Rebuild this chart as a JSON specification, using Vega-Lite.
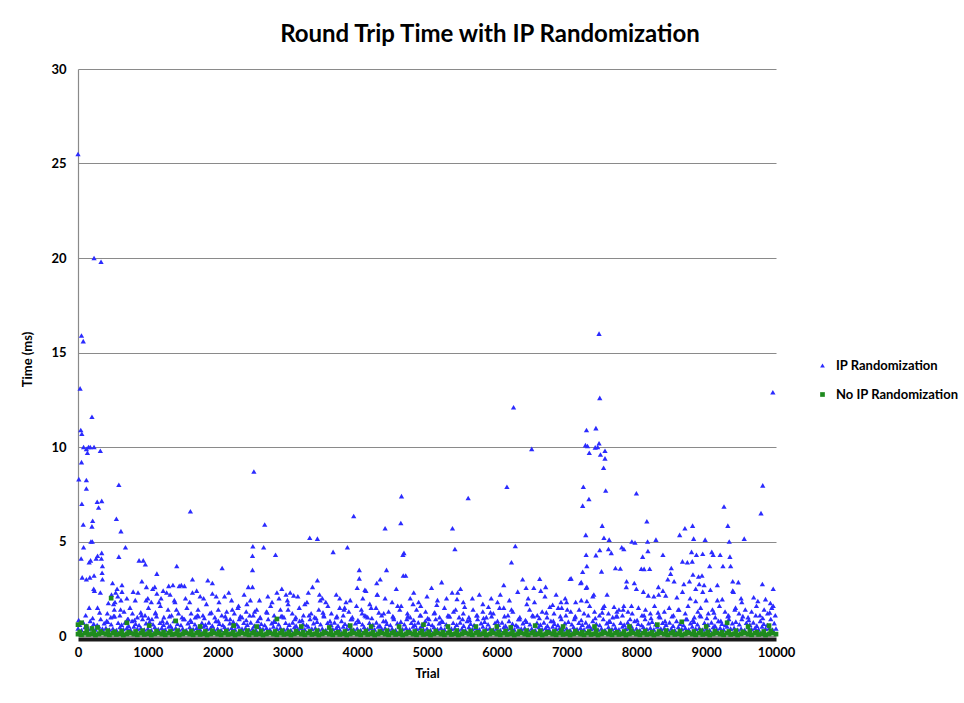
{
"$schema":"https://vega.github.io/schema/vega-lite/v6.json",
"width":698,"height":567,
"autosize":{"type":"none"},
"padding":{"left":78,"top":69,"right":188,"bottom":67},
"background":"white",
"config":{"view":{"stroke":null},"font":"Lato"},
"title":{"text":"Round Trip Time with IP Randomization","font":"Lato","fontSize":24,"fontWeight":"bold","color":"#000000","anchor":"middle","frame":"group","dx":63,"offset":16},
"datasets":{
"ip":[
{"t":0,"v":0.4},{"t":50,"v":0.32},{"t":100,"v":0.48},{"t":150,"v":0.37},{"t":200,"v":0.44},{"t":250,"v":0.35},{"t":300,"v":0.5},{"t":350,"v":0.39},{"t":400,"v":0.43},{"t":450,"v":0.34},
{"t":500,"v":0.4},{"t":550,"v":0.32},{"t":600,"v":0.48},{"t":650,"v":0.37},{"t":700,"v":0.44},{"t":750,"v":0.35},{"t":800,"v":0.5},{"t":850,"v":0.39},{"t":900,"v":0.43},{"t":950,"v":0.34},
{"t":1000,"v":0.4},{"t":1050,"v":0.32},{"t":1100,"v":0.48},{"t":1150,"v":0.37},{"t":1200,"v":0.44},{"t":1250,"v":0.35},{"t":1300,"v":0.5},{"t":1350,"v":0.39},{"t":1400,"v":0.43},{"t":1450,"v":0.34},
{"t":1500,"v":0.4},{"t":1550,"v":0.32},{"t":1600,"v":0.48},{"t":1650,"v":0.37},{"t":1700,"v":0.44},{"t":1750,"v":0.35},{"t":1800,"v":0.5},{"t":1850,"v":0.39},{"t":1900,"v":0.43},{"t":1950,"v":0.34},
{"t":2000,"v":0.4},{"t":2050,"v":0.32},{"t":2100,"v":0.48},{"t":2150,"v":0.37},{"t":2200,"v":0.44},{"t":2250,"v":0.35},{"t":2300,"v":0.5},{"t":2350,"v":0.39},{"t":2400,"v":0.43},{"t":2450,"v":0.34},
{"t":2500,"v":0.4},{"t":2550,"v":0.32},{"t":2600,"v":0.48},{"t":2650,"v":0.37},{"t":2700,"v":0.44},{"t":2750,"v":0.35},{"t":2800,"v":0.5},{"t":2850,"v":0.39},{"t":2900,"v":0.43},{"t":2950,"v":0.34},
{"t":3000,"v":0.4},{"t":3050,"v":0.32},{"t":3100,"v":0.48},{"t":3150,"v":0.37},{"t":3200,"v":0.44},{"t":3250,"v":0.35},{"t":3300,"v":0.5},{"t":3350,"v":0.39},{"t":3400,"v":0.43},{"t":3450,"v":0.34},
{"t":3500,"v":0.4},{"t":3550,"v":0.32},{"t":3600,"v":0.48},{"t":3650,"v":0.37},{"t":3700,"v":0.44},{"t":3750,"v":0.35},{"t":3800,"v":0.5},{"t":3850,"v":0.39},{"t":3900,"v":0.43},{"t":3950,"v":0.34},
{"t":4000,"v":0.4},{"t":4050,"v":0.32},{"t":4100,"v":0.48},{"t":4150,"v":0.37},{"t":4200,"v":0.44},{"t":4250,"v":0.35},{"t":4300,"v":0.5},{"t":4350,"v":0.39},{"t":4400,"v":0.43},{"t":4450,"v":0.34},
{"t":4500,"v":0.4},{"t":4550,"v":0.32},{"t":4600,"v":0.48},{"t":4650,"v":0.37},{"t":4700,"v":0.44},{"t":4750,"v":0.35},{"t":4800,"v":0.5},{"t":4850,"v":0.39},{"t":4900,"v":0.43},{"t":4950,"v":0.34},
{"t":5000,"v":0.4},{"t":5050,"v":0.32},{"t":5100,"v":0.48},{"t":5150,"v":0.37},{"t":5200,"v":0.44},{"t":5250,"v":0.35},{"t":5300,"v":0.5},{"t":5350,"v":0.39},{"t":5400,"v":0.43},{"t":5450,"v":0.34},
{"t":5500,"v":0.4},{"t":5550,"v":0.32},{"t":5600,"v":0.48},{"t":5650,"v":0.37},{"t":5700,"v":0.44},{"t":5750,"v":0.35},{"t":5800,"v":0.5},{"t":5850,"v":0.39},{"t":5900,"v":0.43},{"t":5950,"v":0.34},
{"t":6000,"v":0.4},{"t":6050,"v":0.32},{"t":6100,"v":0.48},{"t":6150,"v":0.37},{"t":6200,"v":0.44},{"t":6250,"v":0.35},{"t":6300,"v":0.5},{"t":6350,"v":0.39},{"t":6400,"v":0.43},{"t":6450,"v":0.34},
{"t":6500,"v":0.4},{"t":6550,"v":0.32},{"t":6600,"v":0.48},{"t":6650,"v":0.37},{"t":6700,"v":0.44},{"t":6750,"v":0.35},{"t":6800,"v":0.5},{"t":6850,"v":0.39},{"t":6900,"v":0.43},{"t":6950,"v":0.34},
{"t":7000,"v":0.4},{"t":7050,"v":0.32},{"t":7100,"v":0.48},{"t":7150,"v":0.37},{"t":7200,"v":0.44},{"t":7250,"v":0.35},{"t":7300,"v":0.5},{"t":7350,"v":0.39},{"t":7400,"v":0.43},{"t":7450,"v":0.34},
{"t":7500,"v":0.4},{"t":7550,"v":0.32},{"t":7600,"v":0.48},{"t":7650,"v":0.37},{"t":7700,"v":0.44},{"t":7750,"v":0.35},{"t":7800,"v":0.5},{"t":7850,"v":0.39},{"t":7900,"v":0.43},{"t":7950,"v":0.34},
{"t":8000,"v":0.4},{"t":8050,"v":0.32},{"t":8100,"v":0.48},{"t":8150,"v":0.37},{"t":8200,"v":0.44},{"t":8250,"v":0.35},{"t":8300,"v":0.5},{"t":8350,"v":0.39},{"t":8400,"v":0.43},{"t":8450,"v":0.34},
{"t":8500,"v":0.4},{"t":8550,"v":0.32},{"t":8600,"v":0.48},{"t":8650,"v":0.37},{"t":8700,"v":0.44},{"t":8750,"v":0.35},{"t":8800,"v":0.5},{"t":8850,"v":0.39},{"t":8900,"v":0.43},{"t":8950,"v":0.34},
{"t":9000,"v":0.4},{"t":9050,"v":0.32},{"t":9100,"v":0.48},{"t":9150,"v":0.37},{"t":9200,"v":0.44},{"t":9250,"v":0.35},{"t":9300,"v":0.5},{"t":9350,"v":0.39},{"t":9400,"v":0.43},{"t":9450,"v":0.34},
{"t":9500,"v":0.4},{"t":9550,"v":0.32},{"t":9600,"v":0.48},{"t":9650,"v":0.37},{"t":9700,"v":0.44},{"t":9750,"v":0.35},{"t":9800,"v":0.5},{"t":9850,"v":0.39},{"t":9900,"v":0.43},{"t":9950,"v":0.34},{"t":10000,"v":0.4},
{"t":25,"v":0.6},{"t":75,"v":0.72},{"t":125,"v":0.55},{"t":175,"v":0.8},{"t":225,"v":0.65},{"t":275,"v":0.58},{"t":325,"v":0.9},{"t":375,"v":0.68},{"t":425,"v":0.76},{"t":475,"v":0.62},{"t":525,"v":1.05},{"t":575,"v":0.7},
{"t":625,"v":0.6},{"t":675,"v":0.72},{"t":725,"v":0.55},{"t":775,"v":0.8},{"t":825,"v":0.65},{"t":875,"v":0.58},{"t":925,"v":0.9},{"t":975,"v":0.68},{"t":1025,"v":0.76},{"t":1075,"v":0.62},{"t":1125,"v":1.05},{"t":1175,"v":0.7},
{"t":1225,"v":0.6},{"t":1275,"v":0.72},{"t":1325,"v":0.55},{"t":1375,"v":0.8},{"t":1425,"v":0.65},{"t":1475,"v":0.58},{"t":1525,"v":0.9},{"t":1575,"v":0.68},{"t":1625,"v":0.76},{"t":1675,"v":0.62},{"t":1725,"v":1.05},{"t":1775,"v":0.7},
{"t":1825,"v":0.6},{"t":1875,"v":0.72},{"t":1925,"v":0.55},{"t":1975,"v":0.8},{"t":2025,"v":0.65},{"t":2075,"v":0.58},{"t":2125,"v":0.9},{"t":2175,"v":0.68},{"t":2225,"v":0.76},{"t":2275,"v":0.62},{"t":2325,"v":1.05},{"t":2375,"v":0.7},
{"t":2425,"v":0.6},{"t":2475,"v":0.72},{"t":2525,"v":0.55},{"t":2575,"v":0.8},{"t":2625,"v":0.65},{"t":2675,"v":0.58},{"t":2725,"v":0.9},{"t":2775,"v":0.68},{"t":2825,"v":0.76},{"t":2875,"v":0.62},{"t":2925,"v":1.05},{"t":2975,"v":0.7},
{"t":3025,"v":0.6},{"t":3075,"v":0.72},{"t":3125,"v":0.55},{"t":3175,"v":0.8},{"t":3225,"v":0.65},{"t":3275,"v":0.58},{"t":3325,"v":0.9},{"t":3375,"v":0.68},{"t":3425,"v":0.76},{"t":3475,"v":0.62},{"t":3525,"v":1.05},{"t":3575,"v":0.7},
{"t":3625,"v":0.6},{"t":3675,"v":0.72},{"t":3725,"v":0.55},{"t":3775,"v":0.8},{"t":3825,"v":0.65},{"t":3875,"v":0.58},{"t":3925,"v":0.9},{"t":3975,"v":0.68},{"t":4025,"v":0.76},{"t":4075,"v":0.62},{"t":4125,"v":1.05},{"t":4175,"v":0.7},
{"t":4225,"v":0.6},{"t":4275,"v":0.72},{"t":4325,"v":0.55},{"t":4375,"v":0.8},{"t":4425,"v":0.65},{"t":4475,"v":0.58},{"t":4525,"v":0.9},{"t":4575,"v":0.68},{"t":4625,"v":0.76},{"t":4675,"v":0.62},{"t":4725,"v":1.05},{"t":4775,"v":0.7},
{"t":4825,"v":0.6},{"t":4875,"v":0.72},{"t":4925,"v":0.55},{"t":4975,"v":0.8},{"t":5025,"v":0.65},{"t":5075,"v":0.58},{"t":5125,"v":0.9},{"t":5175,"v":0.68},{"t":5225,"v":0.76},{"t":5275,"v":0.62},{"t":5325,"v":1.05},{"t":5375,"v":0.7},
{"t":5425,"v":0.6},{"t":5475,"v":0.72},{"t":5525,"v":0.55},{"t":5575,"v":0.8},{"t":5625,"v":0.65},{"t":5675,"v":0.58},{"t":5725,"v":0.9},{"t":5775,"v":0.68},{"t":5825,"v":0.76},{"t":5875,"v":0.62},{"t":5925,"v":1.05},{"t":5975,"v":0.7},
{"t":6025,"v":0.6},{"t":6075,"v":0.72},{"t":6125,"v":0.55},{"t":6175,"v":0.8},{"t":6225,"v":0.65},{"t":6275,"v":0.58},{"t":6325,"v":0.9},{"t":6375,"v":0.68},{"t":6425,"v":0.76},{"t":6475,"v":0.62},{"t":6525,"v":1.05},{"t":6575,"v":0.7},
{"t":6625,"v":0.6},{"t":6675,"v":0.72},{"t":6725,"v":0.55},{"t":6775,"v":0.8},{"t":6825,"v":0.65},{"t":6875,"v":0.58},{"t":6925,"v":0.9},{"t":6975,"v":0.68},{"t":7025,"v":0.76},{"t":7075,"v":0.62},{"t":7125,"v":1.05},{"t":7175,"v":0.7},
{"t":7225,"v":0.6},{"t":7275,"v":0.72},{"t":7325,"v":0.55},{"t":7375,"v":0.8},{"t":7425,"v":0.65},{"t":7475,"v":0.58},{"t":7525,"v":0.9},{"t":7575,"v":0.68},{"t":7625,"v":0.76},{"t":7675,"v":0.62},{"t":7725,"v":1.05},{"t":7775,"v":0.7},
{"t":7825,"v":0.6},{"t":7875,"v":0.72},{"t":7925,"v":0.55},{"t":7975,"v":0.8},{"t":8025,"v":0.65},{"t":8075,"v":0.58},{"t":8125,"v":0.9},{"t":8175,"v":0.68},{"t":8225,"v":0.76},{"t":8275,"v":0.62},{"t":8325,"v":1.05},{"t":8375,"v":0.7},
{"t":8425,"v":0.6},{"t":8475,"v":0.72},{"t":8525,"v":0.55},{"t":8575,"v":0.8},{"t":8625,"v":0.65},{"t":8675,"v":0.58},{"t":8725,"v":0.9},{"t":8775,"v":0.68},{"t":8825,"v":0.76},{"t":8875,"v":0.62},{"t":8925,"v":1.05},{"t":8975,"v":0.7},
{"t":9025,"v":0.6},{"t":9075,"v":0.72},{"t":9125,"v":0.55},{"t":9175,"v":0.8},{"t":9225,"v":0.65},{"t":9275,"v":0.58},{"t":9325,"v":0.9},{"t":9375,"v":0.68},{"t":9425,"v":0.76},{"t":9475,"v":0.62},{"t":9525,"v":1.05},{"t":9575,"v":0.7},
{"t":9625,"v":0.6},{"t":9675,"v":0.72},{"t":9725,"v":0.55},{"t":9775,"v":0.8},{"t":9825,"v":0.65},{"t":9875,"v":0.58},{"t":9925,"v":0.9},{"t":9975,"v":0.68},
{"t":10,"v":0.85},{"t":110,"v":1.1},{"t":210,"v":0.95},{"t":310,"v":1.25},{"t":410,"v":0.8},{"t":510,"v":1.05},{"t":610,"v":1.4},{"t":710,"v":0.9},
{"t":810,"v":0.85},{"t":910,"v":1.1},{"t":1010,"v":0.95},{"t":1110,"v":1.25},{"t":1210,"v":0.8},{"t":1310,"v":1.05},{"t":1410,"v":1.4},{"t":1510,"v":0.9},
{"t":1610,"v":0.85},{"t":1710,"v":1.1},{"t":1810,"v":0.95},{"t":1910,"v":1.25},{"t":2010,"v":0.8},{"t":2110,"v":1.05},{"t":2210,"v":1.4},{"t":2310,"v":0.9},
{"t":2410,"v":0.85},{"t":2510,"v":1.1},{"t":2610,"v":0.95},{"t":2710,"v":1.25},{"t":2810,"v":0.8},{"t":2910,"v":1.05},{"t":3010,"v":1.4},{"t":3110,"v":0.9},
{"t":3210,"v":0.85},{"t":3310,"v":1.1},{"t":3410,"v":0.95},{"t":3510,"v":1.25},{"t":3610,"v":0.8},{"t":3710,"v":1.05},{"t":3810,"v":1.4},{"t":3910,"v":0.9},
{"t":4010,"v":0.85},{"t":4110,"v":1.1},{"t":4210,"v":0.95},{"t":4310,"v":1.25},{"t":4410,"v":0.8},{"t":4510,"v":1.05},{"t":4610,"v":1.4},{"t":4710,"v":0.9},
{"t":4810,"v":0.85},{"t":4910,"v":1.1},{"t":5010,"v":0.95},{"t":5110,"v":1.25},{"t":5210,"v":0.8},{"t":5310,"v":1.05},{"t":5410,"v":1.4},{"t":5510,"v":0.9},
{"t":5610,"v":0.85},{"t":5710,"v":1.1},{"t":5810,"v":0.95},{"t":5910,"v":1.25},{"t":6010,"v":0.8},{"t":6110,"v":1.05},{"t":6210,"v":1.4},{"t":6310,"v":0.9},
{"t":6410,"v":0.85},{"t":6510,"v":1.1},{"t":6610,"v":0.95},{"t":6710,"v":1.25},{"t":6810,"v":0.8},{"t":6910,"v":1.05},{"t":7010,"v":1.4},{"t":7110,"v":0.9},
{"t":7210,"v":0.85},{"t":7310,"v":1.1},{"t":7410,"v":0.95},{"t":7510,"v":1.25},{"t":7610,"v":0.8},{"t":7710,"v":1.05},{"t":7810,"v":1.4},{"t":7910,"v":0.9},
{"t":8010,"v":0.85},{"t":8110,"v":1.1},{"t":8210,"v":0.95},{"t":8310,"v":1.25},{"t":8410,"v":0.8},{"t":8510,"v":1.05},{"t":8610,"v":1.4},{"t":8710,"v":0.9},
{"t":8810,"v":0.85},{"t":8910,"v":1.1},{"t":9010,"v":0.95},{"t":9110,"v":1.25},{"t":9210,"v":0.8},{"t":9310,"v":1.05},{"t":9410,"v":1.4},{"t":9510,"v":0.9},
{"t":9610,"v":0.85},{"t":9710,"v":1.1},{"t":9810,"v":0.95},{"t":9910,"v":1.25},
{"t":420,"v":1.2},{"t":470,"v":1.0},{"t":520,"v":1.4},{"t":600,"v":1.1},{"t":660,"v":1.3},{"t":720,"v":0.9},{"t":780,"v":1.2},{"t":850,"v":1.0},{"t":900,"v":1.25},{"t":960,"v":1.1},{"t":1010,"v":1.5},{"t":1060,"v":0.9},{"t":1110,"v":1.2},{"t":1180,"v":1.6},{"t":1230,"v":1.0},{"t":1290,"v":1.4},{"t":1340,"v":1.1},{"t":1390,"v":1.8},{"t":1440,"v":1.2},{"t":1490,"v":1.0},{"t":1560,"v":1.5},{"t":1620,"v":1.2},{"t":1680,"v":1.0},{"t":1720,"v":1.4},{"t":1790,"v":1.1},{"t":1840,"v":1.7},{"t":1890,"v":1.2},{"t":1960,"v":1.0},{"t":2010,"v":1.4},{"t":2060,"v":1.1},{"t":2130,"v":1.3},{"t":2180,"v":0.9},{"t":2240,"v":1.2},{"t":2290,"v":1.5},{"t":2350,"v":1.0},{"t":2410,"v":1.3},{"t":2460,"v":1.1},{"t":2560,"v":1.4},{"t":2610,"v":1.0},{"t":2700,"v":1.3},{"t":2760,"v":1.6},{"t":2810,"v":1.1},{"t":2900,"v":1.4},{"t":2950,"v":1.0},{"t":3010,"v":1.7},{"t":3070,"v":1.2},{"t":3120,"v":1.0},{"t":3170,"v":1.5},{"t":3230,"v":1.1},{"t":3280,"v":1.8},{"t":3340,"v":1.2},{"t":3390,"v":1.0},{"t":3450,"v":1.4},{"t":3520,"v":1.1},{"t":3580,"v":1.6},{"t":3630,"v":1.2},{"t":3700,"v":1.0},{"t":3750,"v":1.5},{"t":3800,"v":1.1},{"t":3880,"v":1.3},{"t":3930,"v":1.0},{"t":3990,"v":1.6},{"t":4070,"v":1.2},{"t":4150,"v":1.0},{"t":4200,"v":1.5},{"t":4350,"v":1.1},{"t":4450,"v":1.3},{"t":4520,"v":1.0},{"t":4580,"v":1.6},{"t":4720,"v":1.2},{"t":4760,"v":1.0},{"t":4850,"v":1.4},{"t":4900,"v":1.1},{"t":4980,"v":1.3},{"t":5030,"v":0.9},{"t":5100,"v":1.2},{"t":5180,"v":1.0},{"t":5250,"v":1.5},{"t":5300,"v":1.1},{"t":5380,"v":1.3},{"t":5460,"v":1.0},{"t":5520,"v":1.2},{"t":5600,"v":1.0},{"t":5660,"v":1.4},{"t":5720,"v":1.1},{"t":5800,"v":1.3},{"t":5850,"v":1.0},{"t":5950,"v":1.2},{"t":6040,"v":1.5},{"t":6160,"v":1.1},{"t":6230,"v":1.3},{"t":6330,"v":1.0},{"t":6470,"v":1.4},{"t":6580,"v":1.1},{"t":6650,"v":1.3},{"t":6720,"v":1.0},{"t":6820,"v":1.2},{"t":6880,"v":1.5},{"t":6990,"v":1.1},{"t":7060,"v":1.3},{"t":7120,"v":1.0},{"t":7180,"v":1.4},{"t":7250,"v":1.2},{"t":7330,"v":1.6},{"t":7400,"v":1.3},{"t":7470,"v":1.1},{"t":7520,"v":1.5},{"t":7600,"v":1.2},{"t":7660,"v":1.0},{"t":7750,"v":1.4},{"t":7800,"v":1.1},{"t":7880,"v":1.3},{"t":7940,"v":1.2},{"t":8030,"v":1.5},{"t":8080,"v":1.1},{"t":8130,"v":1.4},{"t":8200,"v":1.2},{"t":8260,"v":1.6},{"t":8340,"v":1.0},{"t":8400,"v":1.3},{"t":8470,"v":1.5},{"t":8530,"v":1.1},{"t":8600,"v":1.4},{"t":8700,"v":1.2},{"t":8740,"v":1.6},{"t":8830,"v":1.0},{"t":8880,"v":1.3},{"t":8920,"v":1.5},{"t":9030,"v":1.2},{"t":9090,"v":1.4},{"t":9130,"v":1.0},{"t":9190,"v":1.6},{"t":9270,"v":1.3},{"t":9320,"v":1.1},{"t":9420,"v":1.5},{"t":9470,"v":1.2},{"t":9560,"v":1.4},{"t":9600,"v":1.0},{"t":9650,"v":1.3},{"t":9720,"v":1.6},{"t":9770,"v":1.1},{"t":9830,"v":1.4},{"t":9880,"v":1.2},{"t":9940,"v":1.5},{"t":9990,"v":1.1},
{"t":480,"v":2.2},{"t":530,"v":1.8},{"t":560,"v":2.5},{"t":700,"v":2.0},{"t":820,"v":1.9},{"t":860,"v":2.3},{"t":1000,"v":2.0},{"t":1050,"v":1.8},{"t":1100,"v":2.6},{"t":1190,"v":2.0},{"t":1220,"v":2.4},{"t":1320,"v":2.2},{"t":1380,"v":1.9},{"t":1480,"v":2.7},{"t":1540,"v":2.0},{"t":1600,"v":1.8},{"t":1700,"v":2.4},{"t":1800,"v":2.0},{"t":1980,"v":2.1},{"t":2020,"v":1.8},{"t":2160,"v":2.3},{"t":2200,"v":1.9},{"t":2380,"v":2.2},{"t":2420,"v":1.7},{"t":2600,"v":1.9},{"t":2720,"v":2.1},{"t":2780,"v":1.8},{"t":2920,"v":2.5},{"t":3000,"v":1.9},{"t":3150,"v":2.1},{"t":3250,"v":1.7},{"t":3300,"v":2.3},{"t":3500,"v":2.0},{"t":3550,"v":1.8},{"t":3700,"v":2.2},{"t":3750,"v":2.0},{"t":3900,"v":1.9},{"t":4080,"v":2.0},{"t":4180,"v":1.7},{"t":4400,"v":2.0},{"t":4500,"v":1.8},{"t":4560,"v":2.5},{"t":4760,"v":2.0},{"t":4880,"v":1.8},{"t":5000,"v":2.1},{"t":5150,"v":1.9},{"t":5280,"v":2.0},{"t":5520,"v":1.8},{"t":5650,"v":2.0},{"t":5800,"v":1.7},{"t":5920,"v":2.0},{"t":6050,"v":2.2},{"t":6180,"v":1.9},{"t":6450,"v":2.0},{"t":6700,"v":2.6},{"t":6850,"v":2.2},{"t":6980,"v":2.0},
{"t":0,"v":25.5},{"t":50,"v":15.9},{"t":75,"v":15.6},{"t":30,"v":13.1},{"t":230,"v":20.0},{"t":330,"v":19.8},{"t":200,"v":11.6},{"t":40,"v":10.9},{"t":55,"v":10.7},{"t":80,"v":10.0},{"t":150,"v":10.0},{"t":175,"v":10.0},{"t":230,"v":10.0},{"t":320,"v":9.8},{"t":120,"v":9.9},{"t":135,"v":9.7},{"t":50,"v":9.2},{"t":12,"v":8.3},{"t":120,"v":8.25},{"t":120,"v":7.8},{"t":55,"v":7.0},{"t":75,"v":5.9},{"t":80,"v":4.7},{"t":45,"v":4.1},{"t":60,"v":3.1},{"t":120,"v":3.0},{"t":160,"v":3.9},{"t":180,"v":4.0},{"t":185,"v":5.0},{"t":205,"v":5.0},{"t":200,"v":5.8},{"t":210,"v":6.1},{"t":170,"v":3.1},{"t":230,"v":3.2},{"t":225,"v":2.5},{"t":235,"v":2.4},{"t":260,"v":4.1},{"t":275,"v":7.1},{"t":295,"v":6.8},{"t":280,"v":4.25},{"t":320,"v":2.3},{"t":340,"v":7.15},{"t":340,"v":4.4},{"t":335,"v":4.1},{"t":350,"v":3.7},{"t":345,"v":3.35},{"t":350,"v":3.0},{"t":160,"v":1.5},{"t":280,"v":1.5},{"t":495,"v":2.8},{"t":585,"v":8.0},{"t":550,"v":6.2},{"t":615,"v":5.55},{"t":680,"v":4.7},{"t":585,"v":4.2},{"t":435,"v":1.75},{"t":570,"v":2.1},{"t":630,"v":2.7},{"t":630,"v":2.35},{"t":615,"v":1.9},{"t":540,"v":2.3},{"t":510,"v":1.7},
{"t":790,"v":2.35},{"t":745,"v":1.5},{"t":875,"v":4.0},{"t":935,"v":4.0},{"t":965,"v":3.8},{"t":915,"v":2.9},{"t":980,"v":2.6},{"t":975,"v":1.9},{"t":1070,"v":2.5},{"t":1130,"v":3.3},{"t":1130,"v":2.25},{"t":1160,"v":1.8},{"t":1270,"v":2.3},{"t":1300,"v":2.65},{"t":1360,"v":2.7},{"t":1415,"v":3.7},{"t":1450,"v":2.65},{"t":1525,"v":2.65},{"t":1640,"v":3.0},{"t":1640,"v":2.3},{"t":1610,"v":6.6},{"t":1750,"v":2.1},{"t":1860,"v":2.95},{"t":1925,"v":2.8},{"t":2065,"v":3.6},{"t":1925,"v":2.25},{"t":2100,"v":2.1},{"t":2300,"v":1.6},{"t":2440,"v":2.6},{"t":2470,"v":1.9},{"t":2500,"v":4.25},{"t":2505,"v":4.75},{"t":2500,"v":3.5},{"t":2520,"v":8.7},{"t":2500,"v":2.6},{"t":2530,"v":1.3},{"t":2660,"v":4.7},{"t":2675,"v":5.9},{"t":2830,"v":4.3},{"t":2850,"v":2.3},{"t":2880,"v":2.0},{"t":2980,"v":2.2},{"t":3040,"v":2.3},{"t":3090,"v":2.15},{"t":3320,"v":5.2},{"t":3430,"v":5.15},{"t":3360,"v":2.6},{"t":3430,"v":2.95},{"t":3460,"v":2.2},{"t":3470,"v":1.9},{"t":3655,"v":4.45},{"t":3860,"v":4.7},{"t":3950,"v":6.35},{"t":3840,"v":1.8},{"t":3820,"v":1.5},{"t":4030,"v":3.5},{"t":4030,"v":3.05},{"t":4000,"v":2.55},{"t":4110,"v":2.45},{"t":4280,"v":2.8},{"t":4290,"v":2.2},{"t":4330,"v":3.0},
{"t":4635,"v":7.4},{"t":4625,"v":5.98},{"t":4400,"v":5.7},{"t":5590,"v":7.3},{"t":5365,"v":5.7},{"t":5400,"v":4.6},{"t":6145,"v":7.9},{"t":6265,"v":4.76},{"t":6210,"v":3.9},{"t":6240,"v":12.1},{"t":6500,"v":9.9},{"t":4670,"v":4.4},{"t":4655,"v":4.3},{"t":4660,"v":3.2},{"t":4695,"v":3.2},{"t":4420,"v":3.5},{"t":4285,"v":2.2},{"t":4125,"v":2.4},{"t":4810,"v":2.3},{"t":5065,"v":2.55},{"t":5210,"v":2.85},{"t":5360,"v":2.3},{"t":5440,"v":2.3},{"t":5480,"v":2.5},{"t":5430,"v":1.96},{"t":5750,"v":2.2},{"t":6100,"v":2.7},{"t":6370,"v":3.0},{"t":6300,"v":2.35},{"t":6420,"v":2.55},{"t":6530,"v":2.55},{"t":6615,"v":3.03},{"t":6630,"v":2.4},{"t":6690,"v":2.1},{"t":6540,"v":1.8},{"t":6430,"v":1.7},{"t":6760,"v":1.55},{"t":7050,"v":3.03},{"t":7200,"v":2.8},{"t":7280,"v":2.55},{"t":7375,"v":2.1},{"t":7130,"v":1.8},{"t":6920,"v":1.8},{"t":6930,"v":1.5},{"t":4630,"v":1.6},{"t":4800,"v":1.7},{"t":4910,"v":1.6},{"t":5140,"v":1.65},{"t":5540,"v":1.55},{"t":5880,"v":1.55},{"t":6010,"v":1.8},{"t":6100,"v":1.5},{"t":4060,"v":1.4},{"t":4270,"v":1.5},{"t":4380,"v":1.2},
{"t":7465,"v":16.0},{"t":7475,"v":12.6},{"t":9955,"v":12.9},{"t":7285,"v":10.9},{"t":7420,"v":11.0},{"t":7270,"v":10.1},{"t":7300,"v":10.05},{"t":7410,"v":9.98},{"t":7445,"v":10.0},{"t":7465,"v":10.2},{"t":7325,"v":9.7},{"t":7485,"v":9.6},{"t":7550,"v":9.8},{"t":7550,"v":9.4},{"t":7530,"v":8.9},{"t":7240,"v":7.9},{"t":7230,"v":6.9},{"t":7320,"v":7.25},{"t":7560,"v":7.7},{"t":8000,"v":7.55},{"t":9810,"v":7.97},{"t":9785,"v":6.5},{"t":9255,"v":6.85},{"t":8150,"v":6.07},{"t":7510,"v":5.84},{"t":7275,"v":5.35},{"t":7535,"v":5.2},{"t":7610,"v":5.1},{"t":8695,"v":5.7},{"t":8805,"v":5.84},{"t":8620,"v":5.35},{"t":9310,"v":5.84},{"t":9330,"v":5.0},{"t":9545,"v":5.15},{"t":8985,"v":5.1},{"t":8820,"v":5.15},{"t":8280,"v":5.1},{"t":8160,"v":5.0},{"t":7935,"v":5.0},{"t":7980,"v":4.95},{"t":7790,"v":4.7},{"t":7820,"v":4.6},{"t":7600,"v":4.6},{"t":7280,"v":4.3},{"t":7420,"v":4.28},{"t":7475,"v":4.55},{"t":7640,"v":4.4},{"t":8165,"v":4.5},{"t":8090,"v":4.2},{"t":8380,"v":4.3},{"t":8790,"v":4.45},{"t":8730,"v":3.9},{"t":8860,"v":4.3},{"t":8950,"v":4.35},{"t":9080,"v":4.45},{"t":9100,"v":4.3},{"t":9200,"v":4.3},{"t":9340,"v":4.2},{"t":9350,"v":3.7},{"t":9240,"v":3.7},{"t":9050,"v":3.7},{"t":8660,"v":3.95},{"t":8800,"v":3.95},{"t":8190,"v":3.56},{"t":8070,"v":3.56},{"t":8110,"v":3.55},{"t":7770,"v":3.57},{"t":7700,"v":3.6},{"t":7500,"v":3.42},{"t":7290,"v":3.7},{"t":7230,"v":3.4},{"t":8500,"v":3.6},{"t":8490,"v":3.3},{"t":8810,"v":3.25},{"t":8890,"v":3.15},{"t":8940,"v":3.2},{"t":8450,"v":3.0},{"t":8540,"v":2.9},{"t":8680,"v":2.75},{"t":8760,"v":2.9},{"t":8900,"v":2.75},{"t":8970,"v":2.7},{"t":9060,"v":2.45},{"t":9160,"v":2.7},{"t":8850,"v":2.5},{"t":9380,"v":2.4},{"t":9380,"v":2.9},{"t":9460,"v":2.85},{"t":9805,"v":2.75},{"t":9960,"v":2.5},{"t":7065,"v":3.05},{"t":7210,"v":2.85},{"t":7290,"v":2.6},{"t":7390,"v":2.2},{"t":7580,"v":2.2},{"t":7860,"v":2.9},{"t":7855,"v":2.6},{"t":7970,"v":2.8},{"t":8000,"v":2.5},{"t":8100,"v":2.35},{"t":8170,"v":2.15},{"t":8250,"v":2.1},{"t":8320,"v":2.2},{"t":8315,"v":2.6},{"t":8380,"v":2.4},{"t":8420,"v":2.15},{"t":8580,"v":2.05},{"t":8660,"v":2.35},{"t":8770,"v":2.0},{"t":8850,"v":1.85},{"t":8950,"v":2.35},{"t":9000,"v":1.9},{"t":9160,"v":1.9},{"t":9230,"v":1.95},{"t":9390,"v":2.35},{"t":9500,"v":2.0},{"t":9510,"v":1.8},{"t":9680,"v":2.05},{"t":9740,"v":1.85},{"t":9850,"v":1.95},{"t":9920,"v":1.75},{"t":9960,"v":1.6},{"t":6800,"v":1.65},{"t":7000,"v":1.8},{"t":7210,"v":1.9},{"t":7290,"v":1.85},{"t":7540,"v":1.6},{"t":7680,"v":1.55},{"t":7820,"v":1.6},{"t":7930,"v":1.6},{"t":7720,"v":1.3}
],
"noip":[
{"t":0,"v":0.1},{"t":50,"v":0.06},{"t":100,"v":0.14},{"t":150,"v":0.08},{"t":200,"v":0.12},{"t":250,"v":0.05},{"t":300,"v":0.11},{"t":350,"v":0.15},
{"t":400,"v":0.1},{"t":450,"v":0.06},{"t":500,"v":0.14},{"t":550,"v":0.08},{"t":600,"v":0.12},{"t":650,"v":0.05},{"t":700,"v":0.11},{"t":750,"v":0.15},
{"t":800,"v":0.1},{"t":850,"v":0.06},{"t":900,"v":0.14},{"t":950,"v":0.08},{"t":1000,"v":0.12},{"t":1050,"v":0.05},{"t":1100,"v":0.11},{"t":1150,"v":0.15},
{"t":1200,"v":0.1},{"t":1250,"v":0.06},{"t":1300,"v":0.14},{"t":1350,"v":0.08},{"t":1400,"v":0.12},{"t":1450,"v":0.05},{"t":1500,"v":0.11},{"t":1550,"v":0.15},
{"t":1600,"v":0.1},{"t":1650,"v":0.06},{"t":1700,"v":0.14},{"t":1750,"v":0.08},{"t":1800,"v":0.12},{"t":1850,"v":0.05},{"t":1900,"v":0.11},{"t":1950,"v":0.15},
{"t":2000,"v":0.1},{"t":2050,"v":0.06},{"t":2100,"v":0.14},{"t":2150,"v":0.08},{"t":2200,"v":0.12},{"t":2250,"v":0.05},{"t":2300,"v":0.11},{"t":2350,"v":0.15},
{"t":2400,"v":0.1},{"t":2450,"v":0.06},{"t":2500,"v":0.14},{"t":2550,"v":0.08},{"t":2600,"v":0.12},{"t":2650,"v":0.05},{"t":2700,"v":0.11},{"t":2750,"v":0.15},
{"t":2800,"v":0.1},{"t":2850,"v":0.06},{"t":2900,"v":0.14},{"t":2950,"v":0.08},{"t":3000,"v":0.12},{"t":3050,"v":0.05},{"t":3100,"v":0.11},{"t":3150,"v":0.15},
{"t":3200,"v":0.1},{"t":3250,"v":0.06},{"t":3300,"v":0.14},{"t":3350,"v":0.08},{"t":3400,"v":0.12},{"t":3450,"v":0.05},{"t":3500,"v":0.11},{"t":3550,"v":0.15},
{"t":3600,"v":0.1},{"t":3650,"v":0.06},{"t":3700,"v":0.14},{"t":3750,"v":0.08},{"t":3800,"v":0.12},{"t":3850,"v":0.05},{"t":3900,"v":0.11},{"t":3950,"v":0.15},
{"t":4000,"v":0.1},{"t":4050,"v":0.06},{"t":4100,"v":0.14},{"t":4150,"v":0.08},{"t":4200,"v":0.12},{"t":4250,"v":0.05},{"t":4300,"v":0.11},{"t":4350,"v":0.15},
{"t":4400,"v":0.1},{"t":4450,"v":0.06},{"t":4500,"v":0.14},{"t":4550,"v":0.08},{"t":4600,"v":0.12},{"t":4650,"v":0.05},{"t":4700,"v":0.11},{"t":4750,"v":0.15},
{"t":4800,"v":0.1},{"t":4850,"v":0.06},{"t":4900,"v":0.14},{"t":4950,"v":0.08},{"t":5000,"v":0.12},{"t":5050,"v":0.05},{"t":5100,"v":0.11},{"t":5150,"v":0.15},
{"t":5200,"v":0.1},{"t":5250,"v":0.06},{"t":5300,"v":0.14},{"t":5350,"v":0.08},{"t":5400,"v":0.12},{"t":5450,"v":0.05},{"t":5500,"v":0.11},{"t":5550,"v":0.15},
{"t":5600,"v":0.1},{"t":5650,"v":0.06},{"t":5700,"v":0.14},{"t":5750,"v":0.08},{"t":5800,"v":0.12},{"t":5850,"v":0.05},{"t":5900,"v":0.11},{"t":5950,"v":0.15},
{"t":6000,"v":0.1},{"t":6050,"v":0.06},{"t":6100,"v":0.14},{"t":6150,"v":0.08},{"t":6200,"v":0.12},{"t":6250,"v":0.05},{"t":6300,"v":0.11},{"t":6350,"v":0.15},
{"t":6400,"v":0.1},{"t":6450,"v":0.06},{"t":6500,"v":0.14},{"t":6550,"v":0.08},{"t":6600,"v":0.12},{"t":6650,"v":0.05},{"t":6700,"v":0.11},{"t":6750,"v":0.15},
{"t":6800,"v":0.1},{"t":6850,"v":0.06},{"t":6900,"v":0.14},{"t":6950,"v":0.08},{"t":7000,"v":0.12},{"t":7050,"v":0.05},{"t":7100,"v":0.11},{"t":7150,"v":0.15},
{"t":7200,"v":0.1},{"t":7250,"v":0.06},{"t":7300,"v":0.14},{"t":7350,"v":0.08},{"t":7400,"v":0.12},{"t":7450,"v":0.05},{"t":7500,"v":0.11},{"t":7550,"v":0.15},
{"t":7600,"v":0.1},{"t":7650,"v":0.06},{"t":7700,"v":0.14},{"t":7750,"v":0.08},{"t":7800,"v":0.12},{"t":7850,"v":0.05},{"t":7900,"v":0.11},{"t":7950,"v":0.15},
{"t":8000,"v":0.1},{"t":8050,"v":0.06},{"t":8100,"v":0.14},{"t":8150,"v":0.08},{"t":8200,"v":0.12},{"t":8250,"v":0.05},{"t":8300,"v":0.11},{"t":8350,"v":0.15},
{"t":8400,"v":0.1},{"t":8450,"v":0.06},{"t":8500,"v":0.14},{"t":8550,"v":0.08},{"t":8600,"v":0.12},{"t":8650,"v":0.05},{"t":8700,"v":0.11},{"t":8750,"v":0.15},
{"t":8800,"v":0.1},{"t":8850,"v":0.06},{"t":8900,"v":0.14},{"t":8950,"v":0.08},{"t":9000,"v":0.12},{"t":9050,"v":0.05},{"t":9100,"v":0.11},{"t":9150,"v":0.15},
{"t":9200,"v":0.1},{"t":9250,"v":0.06},{"t":9300,"v":0.14},{"t":9350,"v":0.08},{"t":9400,"v":0.12},{"t":9450,"v":0.05},{"t":9500,"v":0.11},{"t":9550,"v":0.15},
{"t":9600,"v":0.1},{"t":9650,"v":0.06},{"t":9700,"v":0.14},{"t":9750,"v":0.08},{"t":9800,"v":0.12},{"t":9850,"v":0.05},{"t":9900,"v":0.11},{"t":9950,"v":0.15},{"t":10000,"v":0.1},
{"t":25,"v":0.22},{"t":125,"v":0.26},{"t":225,"v":0.2},{"t":325,"v":0.24},{"t":425,"v":0.28},
{"t":525,"v":0.22},{"t":625,"v":0.26},{"t":725,"v":0.2},{"t":825,"v":0.24},{"t":925,"v":0.28},
{"t":1025,"v":0.22},{"t":1125,"v":0.26},{"t":1225,"v":0.2},{"t":1325,"v":0.24},{"t":1425,"v":0.28},
{"t":1525,"v":0.22},{"t":1625,"v":0.26},{"t":1725,"v":0.2},{"t":1825,"v":0.24},{"t":1925,"v":0.28},
{"t":2025,"v":0.22},{"t":2125,"v":0.26},{"t":2225,"v":0.2},{"t":2325,"v":0.24},{"t":2425,"v":0.28},
{"t":2525,"v":0.22},{"t":2625,"v":0.26},{"t":2725,"v":0.2},{"t":2825,"v":0.24},{"t":2925,"v":0.28},
{"t":3025,"v":0.22},{"t":3125,"v":0.26},{"t":3225,"v":0.2},{"t":3325,"v":0.24},{"t":3425,"v":0.28},
{"t":3525,"v":0.22},{"t":3625,"v":0.26},{"t":3725,"v":0.2},{"t":3825,"v":0.24},{"t":3925,"v":0.28},
{"t":4025,"v":0.22},{"t":4125,"v":0.26},{"t":4225,"v":0.2},{"t":4325,"v":0.24},{"t":4425,"v":0.28},
{"t":4525,"v":0.22},{"t":4625,"v":0.26},{"t":4725,"v":0.2},{"t":4825,"v":0.24},{"t":4925,"v":0.28},
{"t":5025,"v":0.22},{"t":5125,"v":0.26},{"t":5225,"v":0.2},{"t":5325,"v":0.24},{"t":5425,"v":0.28},
{"t":5525,"v":0.22},{"t":5625,"v":0.26},{"t":5725,"v":0.2},{"t":5825,"v":0.24},{"t":5925,"v":0.28},
{"t":6025,"v":0.22},{"t":6125,"v":0.26},{"t":6225,"v":0.2},{"t":6325,"v":0.24},{"t":6425,"v":0.28},
{"t":6525,"v":0.22},{"t":6625,"v":0.26},{"t":6725,"v":0.2},{"t":6825,"v":0.24},{"t":6925,"v":0.28},
{"t":7025,"v":0.22},{"t":7125,"v":0.26},{"t":7225,"v":0.2},{"t":7325,"v":0.24},{"t":7425,"v":0.28},
{"t":7525,"v":0.22},{"t":7625,"v":0.26},{"t":7725,"v":0.2},{"t":7825,"v":0.24},{"t":7925,"v":0.28},
{"t":8025,"v":0.22},{"t":8125,"v":0.26},{"t":8225,"v":0.2},{"t":8325,"v":0.24},{"t":8425,"v":0.28},
{"t":8525,"v":0.22},{"t":8625,"v":0.26},{"t":8725,"v":0.2},{"t":8825,"v":0.24},{"t":8925,"v":0.28},
{"t":9025,"v":0.22},{"t":9125,"v":0.26},{"t":9225,"v":0.2},{"t":9325,"v":0.24},{"t":9425,"v":0.28},
{"t":9525,"v":0.22},{"t":9625,"v":0.26},{"t":9725,"v":0.2},{"t":9825,"v":0.24},{"t":9925,"v":0.28},
{"t":0,"v":0.6},{"t":50,"v":0.7},{"t":120,"v":0.5},{"t":280,"v":0.45},{"t":200,"v":0.4},{"t":475,"v":2.0},{"t":700,"v":0.7},{"t":1020,"v":0.55},{"t":1400,"v":0.8},{"t":1750,"v":0.5},{"t":2230,"v":0.55},{"t":2560,"v":0.5},{"t":2850,"v":0.9},{"t":3200,"v":0.5},{"t":3600,"v":0.45},{"t":3900,"v":0.55},{"t":4200,"v":0.5},{"t":4600,"v":0.5},{"t":4950,"v":0.6},{"t":5300,"v":0.5},{"t":5700,"v":0.5},{"t":6000,"v":0.5},{"t":6200,"v":0.45},{"t":6550,"v":0.55},{"t":6950,"v":0.5},{"t":7400,"v":0.5},{"t":7900,"v":0.5},{"t":8300,"v":0.6},{"t":8650,"v":0.75},{"t":9000,"v":0.5},{"t":9300,"v":0.7},{"t":9600,"v":0.5},{"t":9900,"v":0.55}
]
},
"encoding":{
"x":{"field":"t","type":"quantitative","scale":{"domain":[0,10000],"nice":false,"zero":false},
"axis":{"title":"Trial","values":[0,1000,2000,3000,4000,5000,6000,7000,8000,9000,10000],"format":"d","grid":false,"ticks":false,"domainColor":"#1a1a1a","domainWidth":4,"offset":3,"labelFont":"Lato","labelFontWeight":"bold","labelFontSize":13,"labelColor":"#000000","labelPadding":7,"labelFlush":false,"titleFont":"Lato","titleFontWeight":"bold","titleFontSize":13,"titleColor":"#000000","titlePadding":8}},
"y":{"field":"v","type":"quantitative","scale":{"domain":[0,30],"nice":false},
"axis":{"title":"Time (ms)","values":[0,5,10,15,20,25,30],"grid":true,"gridColor":"#8a8a8a","gridWidth":1.2,"ticks":false,"domainColor":"#8a8a8a","domainWidth":1.2,"labelFont":"Lato","labelFontWeight":"bold","labelFontSize":13,"labelColor":"#000000","labelPadding":12,"titleFont":"Lato","titleFontWeight":"bold","titleFontSize":13,"titleColor":"#000000","titlePadding":16,"titleY":290}}
},
"layer":[
{"data":{"name":"ip"},"mark":{"type":"point","filled":true,"size":28,"opacity":1,"clip":false},
"encoding":{
"color":{"datum":"IP Randomization","type":"nominal","scale":{"domain":["IP Randomization","No IP Randomization"],"range":["#2b2bff","#1e8a1e"]},
"legend":{"title":null,"orient":"none","legendX":738,"legendY":290,"labelFont":"Lato","labelFontWeight":"bold","labelFontSize":13,"labelColor":"#000000","symbolSize":22,"rowPadding":15,"labelOffset":7}},
"shape":{"datum":"IP Randomization","type":"nominal","scale":{"domain":["IP Randomization","No IP Randomization"],"range":["triangle-up","square"]}}}},
{"data":{"name":"noip"},"mark":{"type":"point","filled":true,"size":22,"opacity":1,"clip":false},
"encoding":{
"color":{"datum":"No IP Randomization","type":"nominal"},
"shape":{"datum":"No IP Randomization","type":"nominal"}}}
]
}
